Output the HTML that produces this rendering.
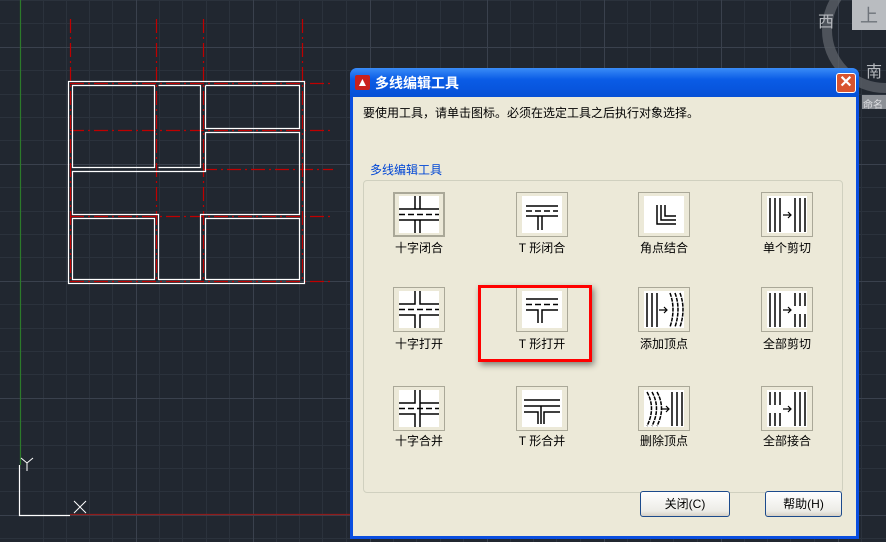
<!DOCTYPE html>
<html><head><meta charset="utf-8">
<style>
*{margin:0;padding:0;box-sizing:border-box}
body{width:886px;height:542px;overflow:hidden;background:#212730;position:relative;font-family:"Liberation Sans","Noto Sans CJK SC",sans-serif}
.abs{position:absolute}
.dlg{left:350px;top:68px;width:509px;height:471px;background:#0a4ee0;border-radius:7px 7px 0 0}
.title{left:0;top:0;width:509px;height:29px;background:linear-gradient(#3a8cf7,#0a5ce6 40%,#0650d6);border-radius:7px 7px 0 0}
.body{left:3px;top:29px;width:503px;height:439px;background:#ece9d8}
.ib{position:absolute;width:52px;height:45px;border:1px solid #aaa898;background:#ece9d8}
.ib svg{position:absolute;left:5px;top:3px;background:#fff}
.lb{position:absolute;font-size:12px;color:#000;width:100px;text-align:center;white-space:nowrap}
.btn{position:absolute;height:26px;border:1px solid #1c4a8c;border-radius:3px;background:linear-gradient(#fff,#ecebe6 80%,#d6d0c5);font-size:12px;text-align:center;line-height:24px}
</style></head><body>
<svg class="abs" style="left:0;top:0" width="886" height="542">
<g stroke="#2b323c" stroke-width="1">
<path d="M43.5 0V542M66.5 0V542M89.5 0V542M112.5 0V542M159.5 0V542M182.5 0V542M206.5 0V542M229.5 0V542M276.5 0V542M299.5 0V542M322.5 0V542M346.5 0V542M393.5 0V542M416.5 0V542M440.5 0V542M463.5 0V542M510.5 0V542M533.5 0V542M556.5 0V542M580.5 0V542M627.5 0V542M650.5 0V542M673.5 0V542M697.5 0V542M744.5 0V542M767.5 0V542M790.5 0V542M814.5 0V542M861.5 0V542"/>
<path d="M0 0.5H886M0 23.5H886M0 70.5H886M0 94.5H886M0 117.5H886M0 140.5H886M0 187.5H886M0 211.5H886M0 234.5H886M0 257.5H886M0 304.5H886M0 328.5H886M0 351.5H886M0 374.5H886M0 421.5H886M0 445.5H886M0 468.5H886M0 491.5H886M0 538.5H886"/>
</g>
<g stroke="#3a414d" stroke-width="1">
<path d="M136.5 0V542M253.5 0V542M370.5 0V542M487.5 0V542M604.5 0V542M721.5 0V542M838.5 0V542"/>
<path d="M0 47.5H886M0 164.5H886M0 281.5H886M0 398.5H886M0 515.5H886"/>
</g>
<path d="M20.5 0V465" stroke="#2c7a2a" stroke-width="1.2"/>
<path d="M70 514.5H350" stroke="#8e1c1c" stroke-width="1.2"/>
<path d="M19.5 465V515.5H70" stroke="#fff" stroke-width="1.2" fill="none"/>
<path d="M21 458l6 5 6-5M27 463v8" stroke="#fff" fill="none"/>
<path d="M74 501l12 12M86 501l-12 12" stroke="#fff"/>
<g stroke="#c00000" stroke-width="1.2" stroke-dasharray="14 4 2 4" fill="none">
<path d="M70.5 19V283M156.5 19V283M203.5 19V283M302.5 19V283"/>
<path d="M70 83.5H333M70 130.5H333M203 169.5H333M70 216.5H333M70 281.5H333"/>
</g>
<g stroke="#fff" stroke-width="1.2" fill="none">
<rect x="68.5" y="81.5" width="236" height="202"/>
<path d="M72.5 85.5H154.5V167.5H72.5Z"/>
<path d="M158.5 85.5H200.5V167.5H158.5"/>
<path d="M205.5 85.5H299.5V128.5H205.5V85.5"/>
<path d="M72.5 171.5H205.5V132.5H299.5V214.5H200.5V279.5H158.5V214.5H72.5Z"/>
<path d="M72.5 218.5H154.5V279.5H72.5Z"/>
<path d="M205.5 218.5H299.5V279.5H205.5Z"/>
</g>
<circle cx="885" cy="30" r="58" stroke="#5a5f67" stroke-width="10" fill="none" opacity="0.8"/>
<rect x="852" y="0" width="34" height="30" fill="#b9bcc0"/>
<rect x="862" y="95" width="24" height="14" fill="#8c9096"/>
</svg>
<div class="abs" style="left:818px;top:8px;font-size:16px;color:#b5b8bd">西</div>
<div class="abs" style="left:866px;top:58px;font-size:16px;color:#b5b8bd">南</div>
<div class="abs" style="left:860px;top:2px;font-size:18px;color:#6e737a">上</div>
<div class="abs" style="left:863px;top:96px;font-size:10px;color:#dcdde0">命名</div>

<div class="abs dlg">
<div class="abs title">
 <div class="abs" style="left:5px;top:7px;width:15px;height:15px;background:#c8201c;border-radius:2px;color:#fff;font-size:12px;line-height:15px;text-align:center">▲</div>
 <div class="abs" style="left:25px;top:5px;font-size:14px;font-weight:bold;color:#fff">多线编辑工具</div>
 <div class="abs" style="left:486px;top:5px;width:20px;height:20px;background:#d8542f;border:1px solid #fff;border-radius:3px;color:#fff;font-size:16px;line-height:18px;text-align:center;font-weight:bold">✕</div>
</div>
<div class="abs body">
 <div class="abs" style="left:10px;top:7px;font-size:12px;color:#000">要使用工具，请单击图标。必须在选定工具之后执行对象选择。</div>
 <div class="abs" style="left:10px;top:83px;width:480px;height:313px;border:1px solid #d0d0bf;border-radius:4px"></div>
 <div class="abs" style="left:15px;top:64px;font-size:12px;color:#0046d5;background:#ece9d8;padding:0 2px">多线编辑工具</div>

 <div class="ib" style="left:40px;top:95px;border:2px solid #aaa898"><svg width="40" height="37" style="left:4px;top:2px"><g stroke="#000" stroke-width="1.5"><path d="M16 0V13M21 0V13M16 24V37M21 24V37M0 13H40M0 24H40"/><path d="M0 18.5H40" stroke-dasharray="6 3"/></g></svg></div>
 <div class="lb" style="left:16px;top:142px">十字闭合</div>
 <div class="ib" style="left:163px;top:95px"><svg width="40" height="37"><g stroke="#000" stroke-width="1.5"><path d="M4 10H36M4 20H36M16 20V34M20 20V34"/><path d="M4 15H36" stroke-dasharray="6 3"/></g></svg></div>
 <div class="lb" style="left:139px;top:142px">T 形闭合</div>
 <div class="ib" style="left:285px;top:95px"><svg width="40" height="37"><g stroke="#000" stroke-width="1.5" fill="none"><path d="M13 9V28H32M17 9V24H32M21 9V20H32"/></g></svg></div>
 <div class="lb" style="left:261px;top:142px">角点结合</div>
 <div class="ib" style="left:408px;top:95px"><svg width="40" height="37"><g stroke="#000" stroke-width="1.5"><path d="M3 2V36M8 2V36M13 2V36M28 2V36M33 2V36M38 2V36"/><path d="M16 19H24M21 16L24 19L21 22" fill="none" stroke-width="1.2"/></g></svg></div>
 <div class="lb" style="left:384px;top:142px">单个剪切</div>

 <div class="ib" style="left:40px;top:190px"><svg width="40" height="37"><g stroke="#000" stroke-width="1.5" fill="none"><path d="M16 0V13H0M21 0V13H40M16 37V24H0M21 37V24H40"/><path d="M0 18.5H40" stroke-dasharray="6 3"/></g></svg></div>
 <div class="lb" style="left:16px;top:238px">十字打开</div>
 <div class="ib" style="left:163px;top:190px"><svg width="40" height="37"><g stroke="#000" stroke-width="1.5" fill="none"><path d="M4 8H36M4 19H16V32M36 19H20V32"/><path d="M4 13.5H36" stroke-dasharray="6 3"/></g></svg></div>
 <div class="lb" style="left:139px;top:238px">T 形打开</div>
 <div class="ib" style="left:285px;top:190px"><svg width="40" height="37"><g stroke="#000" stroke-width="1.5" fill="none"><path d="M3 2V36M8 2V36M13 2V36"/><path d="M26 2Q32 18 26 36M31 2Q37 18 31 36M36 2Q42 18 36 36" stroke-dasharray="4 1"/><path d="M15 19H23M20 16L23 19L20 22" stroke-width="1.2"/></g></svg></div>
 <div class="lb" style="left:261px;top:238px">添加顶点</div>
 <div class="ib" style="left:408px;top:190px"><svg width="40" height="37"><g stroke="#000" stroke-width="1.5" fill="none"><path d="M3 2V36M8 2V36M13 2V36M28 2V15M33 2V15M38 2V15M28 23V36M33 23V36M38 23V36"/><path d="M16 19H24M21 16L24 19L21 22" stroke-width="1.2"/></g></svg></div>
 <div class="lb" style="left:384px;top:238px">全部剪切</div>

 <div class="ib" style="left:40px;top:289px"><svg width="40" height="37"><g stroke="#000" stroke-width="1.5" fill="none"><path d="M16 0V13H0M21 0V37M16 37V24H0M21 13H40M21 24H40"/><path d="M0 18.5H40" stroke-dasharray="6 3"/></g></svg></div>
 <div class="lb" style="left:16px;top:335px">十字合并</div>
 <div class="ib" style="left:163px;top:289px"><svg width="40" height="37"><g stroke="#000" stroke-width="1.5" fill="none"><path d="M2 10H38M2 16H38M2 22H16V34M38 22H22V34M19 16V34"/></g></svg></div>
 <div class="lb" style="left:139px;top:335px">T 形合并</div>
 <div class="ib" style="left:285px;top:289px"><svg width="40" height="37"><g stroke="#000" stroke-width="1.5" fill="none"><path d="M28 2V36M33 2V36M38 2V36"/><path d="M3 2Q12 18 3 36M8 2Q17 18 8 36M13 2Q22 18 13 36" stroke-dasharray="4 1"/><path d="M17 19H25M22 16L25 19L22 22" stroke-width="1.2"/></g></svg></div>
 <div class="lb" style="left:261px;top:335px">删除顶点</div>
 <div class="ib" style="left:408px;top:289px"><svg width="40" height="37"><g stroke="#000" stroke-width="1.5" fill="none"><path d="M3 2V15M8 2V15M13 2V15M3 23V36M8 23V36M13 23V36M28 2V36M33 2V36M38 2V36"/><path d="M16 19H24M21 16L24 19L21 22" stroke-width="1.2"/></g></svg></div>
 <div class="lb" style="left:384px;top:335px">全部接合</div>

 <div class="abs" style="left:125px;top:188px;width:114px;height:77px;border:3px solid #f00;box-shadow:2px 3px 6px rgba(0,0,0,0.45)"></div>

 <div class="btn" style="left:287px;top:394px;width:90px">关闭(C)</div>
 <div class="btn" style="left:412px;top:394px;width:77px">帮助(H)</div>
</div>
</div>
</body></html>
